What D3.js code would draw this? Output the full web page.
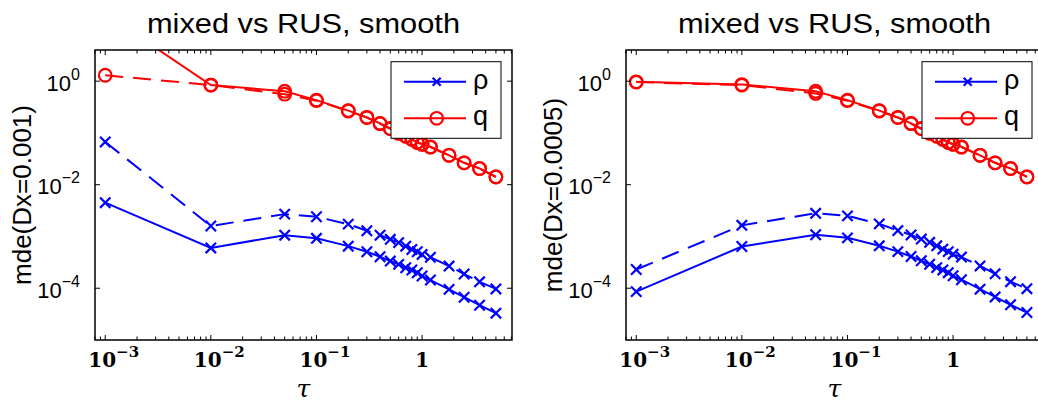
<!DOCTYPE html>
<html><head><meta charset="utf-8">
<script src="https://cdn.jsdelivr.net/npm/d3@7"></script>
<style>body{margin:0;background:#fff}svg{display:block}</style>
</head><body>
<script>
const tau = [0.001, 0.01, 0.05, 0.1, 0.2, 0.3, 0.4, 0.5, 0.6, 0.7, 0.8, 0.9, 1.0, 1.2, 1.8, 2.5, 3.5, 5];
// panel 1: Dx = 0.001
const rhoSolidL = [4.5e-3, 6.0e-4, 1.06e-3, 9.2e-4, 6.5e-4, 5.07e-4, 4.06e-4, 3.35e-4, 2.89e-4, 2.49e-4, 2.25e-4, 1.99e-4, 1.72e-4, 1.44e-4, 9.5e-5, 6.7e-5, 4.7e-5, 3.3e-5];
const rhoDashL  = [0.067, 1.59e-3, 2.7e-3, 2.4e-3, 1.73e-3, 1.29e-3, 1.06e-3, 8.8e-4, 7.6e-4, 6.5e-4, 5.6e-4, 5.07e-4, 4.5e-4, 3.95e-4, 2.68e-4, 1.88e-4, 1.33e-4, 9.7e-5];
const qSolidL   = [20, 0.84, 0.64, 0.43, 0.27, 0.20, 0.153, 0.122, 0.099, 0.087, 0.076, 0.066, 0.061, 0.054, 0.037, 0.0265, 0.0206, 0.0142];
const qDashL    = [1.3, 0.84, 0.56, 0.42, 0.265, 0.198, 0.151, 0.12, 0.098, 0.086, 0.075, 0.065, 0.06, 0.053, 0.037, 0.0264, 0.0205, 0.0141];
// panel 2: Dx = 0.0005
const rhoSolidR = [8.6e-5, 6.4e-4, 1.08e-3, 9.4e-4, 6.6e-4, 5.1e-4, 4.1e-4, 3.4e-4, 2.9e-4, 2.5e-4, 2.26e-4, 2.0e-4, 1.74e-4, 1.46e-4, 9.6e-5, 6.8e-5, 4.8e-5, 3.4e-5];
const rhoDashR  = [2.3e-4, 1.64e-3, 2.8e-3, 2.5e-3, 1.75e-3, 1.3e-3, 1.07e-3, 8.9e-4, 7.7e-4, 6.6e-4, 5.7e-4, 5.1e-4, 4.55e-4, 4.0e-4, 2.7e-4, 1.9e-4, 1.34e-4, 9.8e-5];
const qSolidR   = [0.97, 0.86, 0.64, 0.43, 0.27, 0.20, 0.153, 0.122, 0.099, 0.087, 0.076, 0.066, 0.061, 0.054, 0.037, 0.0265, 0.0206, 0.0142];
const qDashR    = [0.96, 0.84, 0.58, 0.42, 0.265, 0.198, 0.151, 0.12, 0.098, 0.086, 0.075, 0.065, 0.06, 0.053, 0.037, 0.0264, 0.0205, 0.0141];

const xTickVals = [0.001, 0.01, 0.1, 1];
const xTickLabels = [["10", "\u22123"], ["10", "\u22122"], ["10", "\u22121"], ["1", ""]];
const yTickVals = [1, 1e-2, 1e-4];
const yTickLabels = [["10", "0"], ["10", "\u22122"], ["10", "\u22124"]];
const legendLabels = ["\u03c1", "q"];
const titleText = "mixed vs RUS, smooth";
const yLabels = ["mde(Dx=0.001)", "mde(Dx=0.0005)"];
const xLabel = "\u03c4";

const W = 1038, H = 403;
const svg = d3.select("body").append("svg").attr("width", W).attr("height", H);
const pw = 417, ph = 290, topY = 50;
const panels = [
  {left: 95, rhoS: rhoSolidL, rhoD: rhoDashL, qS: qSolidL, qD: qDashL, ylab: yLabels[0]},
  {left: 626, rhoS: rhoSolidR, rhoD: rhoDashR, qS: qSolidR, qD: qDashR, ylab: yLabels[1]}
];
const BLUE = "#0000ff", RED = "#ff0000";
const sans = "'Liberation Sans', Arial, Helvetica, sans-serif";
const serif = "'DejaVu Serif', serif";

panels.forEach((p, pi) => {
  const x = d3.scaleLog().domain([8e-4, 7.1]).range([0, pw]);
  const y = d3.scaleLog().domain([1e-5, 4]).range([ph, 0]);
  const g = svg.append("g").attr("transform", `translate(${p.left},${topY})`);
  const cid = "clip" + pi;
  g.append("clipPath").attr("id", cid).append("rect").attr("x", 0).attr("y", 0).attr("width", pw).attr("height", ph);
  const plot = g.append("g").attr("clip-path", `url(#${cid})`);

  const line = d3.line().x((d, i) => x(tau[i])).y(d => y(d));
  const series = [
    {v: p.rhoD, c: BLUE, dash: "18,10", m: "x"},
    {v: p.rhoS, c: BLUE, dash: null, m: "x"},
    {v: p.qD, c: RED, dash: "18,10", m: "o"},
    {v: p.qS, c: RED, dash: null, m: "o"}
  ];
  series.forEach(s => {
    plot.append("path").datum(s.v).attr("d", line).attr("fill", "none")
      .attr("stroke", s.c).attr("stroke-width", 2).attr("stroke-dasharray", s.dash);
    const pts = plot.append("g");
    s.v.forEach((d, i) => {
      const cx = x(tau[i]), cy = y(d);
      if (s.m === "o") {
        pts.append("circle").attr("cx", cx).attr("cy", cy).attr("r", 6.3)
          .attr("fill", "none").attr("stroke", s.c).attr("stroke-width", 2.2);
      } else {
        const r = 5.2;
        pts.append("path").attr("d", `M${cx-r},${cy-r}L${cx+r},${cy+r}M${cx-r},${cy+r}L${cx+r},${cy-r}`)
          .attr("stroke", s.c).attr("stroke-width", 2.2);
      }
    });
  });

  g.append("rect").attr("width", pw).attr("height", ph).attr("fill", "none").attr("stroke", "#000").attr("stroke-width", 1.5);

  const ticks = [];
  for (let e = -4; e <= 1; e++) for (let k = 1; k <= 9; k++) {
    const v = k * Math.pow(10, e);
    if (v >= 8e-4 && v <= 7.1) ticks.push({v, major: k === 1});
  }
  ticks.forEach(t => {
    const tx = x(t.v), len = t.major ? 5 : 3.5;
    g.append("line").attr("x1", tx).attr("x2", tx).attr("y1", ph).attr("y2", ph - len).attr("stroke", "#000").attr("stroke-width", 1);
    g.append("line").attr("x1", tx).attr("x2", tx).attr("y1", 0).attr("y2", len).attr("stroke", "#000").attr("stroke-width", 1);
  });
  yTickVals.forEach(v => {
    const ty = y(v);
    g.append("line").attr("x1", 0).attr("x2", 5).attr("y1", ty).attr("y2", ty).attr("stroke", "#000");
    g.append("line").attr("x1", pw).attr("x2", pw - 5).attr("y1", ty).attr("y2", ty).attr("stroke", "#000");
  });

  xTickVals.forEach((v, i) => {
    const [base, ex] = xTickLabels[i];
    const t = g.append("text").attr("y", ph + 27).attr("font-family", serif)
      .attr("font-weight", "bold").attr("font-size", 20).attr("fill", "#000");
    if (ex) {
      t.attr("x", x(v) - 17).attr("text-anchor", "start");
      t.append("tspan").text(base);
      t.append("tspan").attr("dy", -10).attr("font-size", 15).text(ex);
    } else {
      t.attr("x", x(v)).attr("text-anchor", "middle").text(base);
    }
  });
  yTickVals.forEach((v, i) => {
    const [base, ex] = yTickLabels[i];
    const t = g.append("text").attr("x", -15).attr("y", y(v) + 9.5).attr("text-anchor", "end")
      .attr("font-family", sans).attr("font-size", 22).attr("fill", "#000");
    t.append("tspan").text(base);
    t.append("tspan").attr("dy", -11).attr("font-size", 16).text(ex);
  });

  g.append("text").attr("transform", `translate(${pw / 2},-17) scale(1.1,1)`).attr("text-anchor", "middle")
    .attr("font-family", sans).attr("font-size", 28).text(titleText);
  g.append("text").attr("x", pw / 2).attr("y", ph + 57).attr("text-anchor", "middle")
    .attr("font-family", serif).attr("font-style", "italic").attr("font-size", 25).text(xLabel);
  g.append("text").attr("transform", `translate(-64,${ph / 2}) rotate(-90)`).attr("text-anchor", "middle")
    .attr("font-family", sans).attr("font-size", 26).text(p.ylab);

  const lg = g.append("g").attr("transform", "translate(296,11.7)");
  lg.append("rect").attr("width", 110).attr("height", 76.6).attr("fill", "#fff").attr("stroke", "#000").attr("stroke-width", 1);
  const entries = [{c: BLUE, m: "x", yy: 20}, {c: RED, m: "o", yy: 56.6}];
  entries.forEach((e, i) => {
    lg.append("line").attr("x1", 13).attr("x2", 75).attr("y1", e.yy).attr("y2", e.yy).attr("stroke", e.c).attr("stroke-width", 2);
    if (e.m === "o") {
      lg.append("circle").attr("cx", 45.7).attr("cy", e.yy).attr("r", 6.3).attr("fill", "none").attr("stroke", e.c).attr("stroke-width", 2.2);
    } else {
      const r = 4, cx = 45.7, cy = e.yy;
      lg.append("path").attr("d", `M${cx-r},${cy-r}L${cx+r},${cy+r}M${cx-r},${cy+r}L${cx+r},${cy-r}`).attr("stroke", e.c).attr("stroke-width", 2.2);
    }
    lg.append("text").attr("x", 82).attr("y", e.yy + 7).attr("font-family", sans).attr("font-size", 27).text(legendLabels[i]);
  });
});
</script>
</body></html>
